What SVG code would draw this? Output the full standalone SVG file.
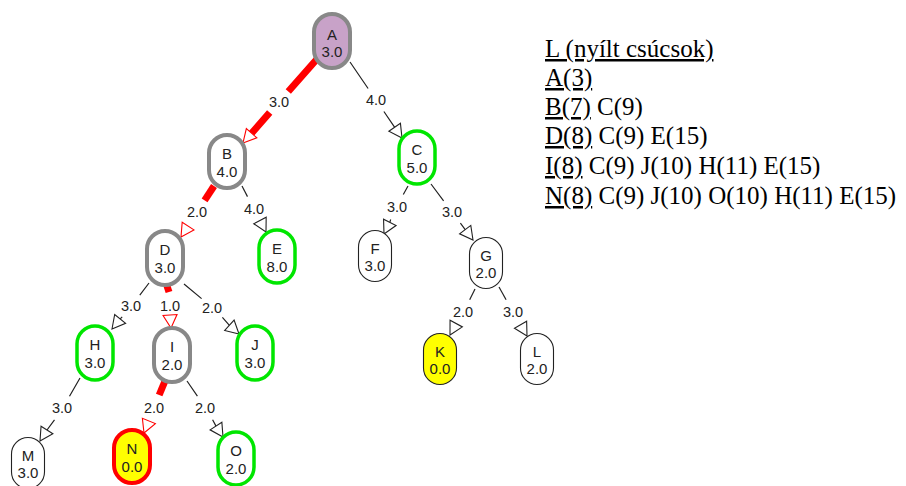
<svg xmlns="http://www.w3.org/2000/svg" xmlns:xlink="http://www.w3.org/1999/xlink" width="906" height="486" viewBox="0 0 906 486">
<defs>
<style>
.e{stroke:#222;stroke-width:1.2;fill:none}
.r{stroke:#ff0000;stroke-width:7;fill:none;stroke-linecap:butt}
.ha{fill:#fff;stroke:#222;stroke-width:1.1}
.hr{fill:#fff;stroke:#ff0000;stroke-width:1.1}
.lb{font-family:"Liberation Sans",Arial,sans-serif;font-size:14.5px;fill:#222;text-anchor:middle}
.nt{font-family:"Liberation Sans",Arial,sans-serif;font-size:15px;fill:#222;text-anchor:middle}
.gr{fill:#fff;stroke:#888;stroke-width:4}
.gn{fill:#fff;stroke:#00e600;stroke-width:3.5}
.th{fill:#fff;stroke:#222;stroke-width:1.1}
.rt{font-family:"Liberation Serif","Times New Roman",serif;font-size:25px;fill:#000}
</style>
<polygon id="ah" points="0,0 -13,-7 -13,7"/>
</defs>
<rect width="906" height="486" fill="#fff"/>
<g id="connectors">
<path class="r" d="M317,59 L288.3,91.5 M269.7,112.5 L251.6,133.3"/>
<use xlink:href="#ah" class="hr" transform="translate(243,143) rotate(131.4)"/>
<text class="lb" x="279" y="107">3.0</text>
<path class="e" d="M350,62 L368.1,88.5 M383.9,111.5 L394.7,127.3"/>
<use xlink:href="#ah" class="ha" transform="translate(402,138) rotate(55.6)"/>
<text class="lb" x="376" y="105">4.0</text>
<path class="r" d="M214,186 L204.6,200.3"/>
<use xlink:href="#ah" class="hr" transform="translate(181,237) rotate(122.9)"/>
<text class="lb" x="197" y="217">2.0</text>
<path class="e" d="M242,186 L247.5,196.6"/>
<use xlink:href="#ah" class="ha" transform="translate(266,232) rotate(62.4)"/>
<text class="lb" x="254" y="214">4.0</text>
<path class="e" d="M408,186 L403.3,194.5 M390.7,219.5 L389.8,222.4"/>
<use xlink:href="#ah" class="ha" transform="translate(384,234) rotate(116.6)"/>
<text class="lb" x="397" y="212">3.0</text>
<path class="e" d="M431,184 L443.6,200.8 M460.4,223.2 L465.2,229.6"/>
<use xlink:href="#ah" class="ha" transform="translate(473,240) rotate(53.1)"/>
<text class="lb" x="452" y="217">3.0</text>
<path class="e" d="M149,283 L139.8,295.1 M122.2,316.9 L120.2,318.9"/>
<use xlink:href="#ah" class="ha" transform="translate(112,329) rotate(128.8)"/>
<text class="lb" x="131" y="311">3.0</text>
<path class="r" d="M167,286 L169,292"/>
<use xlink:href="#ah" class="hr" transform="translate(171,328) rotate(85.8)"/>
<text class="lb" x="170" y="311">1.0</text>
<path class="e" d="M184,284 L201.6,298.6 M222.4,317.4 L229.4,325.3"/>
<use xlink:href="#ah" class="ha" transform="translate(239,334) rotate(42.3)"/>
<text class="lb" x="212" y="313">2.0</text>
<path class="e" d="M80,378 L69.5,396.2 M54.5,419.8 L47,430"/>
<use xlink:href="#ah" class="ha" transform="translate(40,441) rotate(122.4)"/>
<text class="lb" x="62" y="413">3.0</text>
<path class="r" d="M165,381 L159.2,395"/>
<use xlink:href="#ah" class="hr" transform="translate(144,433) rotate(112)"/>
<text class="lb" x="154" y="413">2.0</text>
<path class="e" d="M187,381 L197.4,396.2 M212.6,419.8 L216,426.1"/>
<use xlink:href="#ah" class="ha" transform="translate(223,437) rotate(57.3)"/>
<text class="lb" x="205" y="413">2.0</text>
<path class="e" d="M475,289 L469.7,299.7"/>
<use xlink:href="#ah" class="ha" transform="translate(450,335) rotate(118.5)"/>
<text class="lb" x="463" y="317">2.0</text>
<path class="e" d="M499,287 L506.1,299.8"/>
<use xlink:href="#ah" class="ha" transform="translate(527,336) rotate(60.3)"/>
<text class="lb" x="513" y="317">3.0</text>
</g>
<g id="A"><rect x="314" y="14" width="36" height="54" rx="18" fill="#c8a2c8" stroke="#888" stroke-width="4"/><text class="nt" x="332" y="40">A</text><text class="nt" x="332" y="57">3.0</text></g>
<g id="B"><rect class="gr" x="209" y="135" width="36" height="53" rx="18"/><text class="nt" x="227" y="159">B</text><text class="nt" x="227" y="177">4.0</text></g>
<g id="C"><rect class="gn" x="399" y="131" width="36" height="53" rx="18"/><text class="nt" x="417" y="155">C</text><text class="nt" x="417" y="173">5.0</text></g>
<g id="D"><rect class="gr" x="147" y="231" width="36" height="54" rx="18"/><text class="nt" x="165" y="255">D</text><text class="nt" x="165" y="273">3.0</text></g>
<g id="E"><rect class="gn" x="259" y="230" width="36" height="53" rx="18"/><text class="nt" x="277" y="254">E</text><text class="nt" x="277" y="272">8.0</text></g>
<g id="F"><rect class="th" x="358.5" y="230.5" width="33" height="51" rx="16.5"/><text class="nt" x="375" y="254">F</text><text class="nt" x="375" y="271">3.0</text></g>
<g id="G"><rect class="th" x="469.5" y="237.5" width="33" height="51" rx="16.5"/><text class="nt" x="486" y="261">G</text><text class="nt" x="486" y="278">2.0</text></g>
<g id="H"><rect class="gn" x="77" y="326" width="36" height="54" rx="18"/><text class="nt" x="95" y="350">H</text><text class="nt" x="95" y="368">3.0</text></g>
<g id="I"><rect class="gr" x="154" y="328" width="36" height="54" rx="18"/><text class="nt" x="172" y="352">I</text><text class="nt" x="172" y="370">2.0</text></g>
<g id="J"><rect class="gn" x="237" y="326" width="36" height="54" rx="18"/><text class="nt" x="255" y="350">J</text><text class="nt" x="255" y="368">3.0</text></g>
<g id="K"><rect x="423.5" y="333.5" width="33" height="51" rx="16.5" fill="#ffff00" stroke="#222" stroke-width="1.1"/><text class="nt" x="440" y="357">K</text><text class="nt" x="440" y="374">0.0</text></g>
<g id="L"><rect class="th" x="520.5" y="333.5" width="33" height="51" rx="16.5"/><text class="nt" x="537" y="357">L</text><text class="nt" x="537" y="374">2.0</text></g>
<g id="M"><rect class="th" x="11.5" y="437.5" width="33" height="51" rx="16.5"/><text class="nt" x="28" y="461">M</text><text class="nt" x="28" y="478">3.0</text></g>
<g id="N"><rect x="114" y="430" width="36" height="53" rx="18" fill="#ffff00" stroke="#ff0000" stroke-width="4"/><text class="nt" x="132" y="454">N</text><text class="nt" x="132" y="472">0.0</text></g>
<g id="O"><rect class="gn" x="218" y="432" width="36" height="53" rx="18"/><text class="nt" x="236" y="456">O</text><text class="nt" x="236" y="474">2.0</text></g>
<g id="list">
<text class="rt" x="545" y="57" text-decoration="underline">L (nyílt csúcsok)</text>
<text class="rt" x="545" y="86"><tspan text-decoration="underline">A(3)</tspan></text>
<text class="rt" x="545" y="115"><tspan text-decoration="underline">B(7)</tspan> C(9)</text>
<text class="rt" x="545" y="144"><tspan text-decoration="underline">D(8)</tspan> C(9) E(15)</text>
<text class="rt" x="545" y="174"><tspan text-decoration="underline">I(8)</tspan> C(9) J(10) H(11) E(15)</text>
<text class="rt" x="545" y="204"><tspan text-decoration="underline">N(8)</tspan> C(9) J(10) O(10) H(11) E(15)</text>
</g>
</svg>
